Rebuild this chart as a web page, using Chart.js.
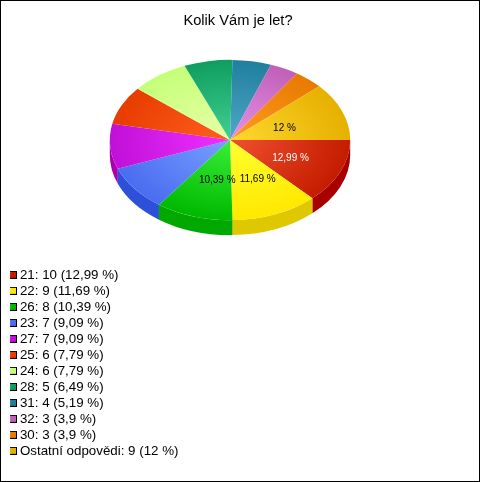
<!DOCTYPE html>
<html><head><meta charset="utf-8">
<style>html,body{margin:0;padding:0;background:#fff}canvas{display:block}</style>
<script src="https://cdn.jsdelivr.net/npm/chart.js@4"></script>
</head><body><canvas id="c" width="480" height="482"></canvas>
<script>
const categories = ['21','22','26','23','27','25','24','28','31','32','30','Ostatní odpovědi'];
const counts = [10,9,8,7,7,6,6,5,4,3,3,9];
const percents = ['12,99','11,69','10,39','9,09','9,09','7,79','7,79','6,49','5,19','3,9','3,9','12'];
const sliceLabels = ['12,99 %','11,69 %','10,39 %','','','','','','','','','12 %'];
const sliceLabelColors = ['#fff','#000','#000','#000','#000','#000','#000','#000','#000','#000','#000','#000'];
const rimColors = ['#c41c00','#ffe800','#00b800','#4a6cf0','#c010d8','#e83c00','#c4ff78','#0f9e60','#1f7f9c','#c060b8','#e87a00','#e6b000'];
const midColors = ['#f05030','#ffff30','#38f038','#78a0ff','#f030ff','#ff6020','#e8ffa8','#40d090','#50a8c8','#e890e8','#ff9c20','#ffd830'];
const sideColors = ['#a80000','#e0c800','#00a800','#2c50d8','#a800b0','#c03000','#a0d060','#0a8048','#186880','#a04898','#c06000','#c09000'];
const legendColors = ['#c41c00','#ffe800','#00b800','#4a6cf0','#c010d8','#e83c00','#c4ff78','#0f9e60','#1f7f9c','#c060b8','#e87a00','#e6b000'];
const squash = 0.6667, depth = 15, pieCenterX = 230, pieCenterY = 140;

function swatch(color){
  const s=document.createElement('canvas'); s.width=8; s.height=8;
  const x=s.getContext('2d');
  x.fillStyle='#000'; x.fillRect(0,0,8,8);
  x.fillStyle=color; x.fillRect(1,1,6,6);
  return s;
}
function toScreen(chart, x, y){
  const a = chart.chartArea, ax=(a.left+a.right)/2, ay=(a.top+a.bottom)/2;
  return {x:x-ax+pieCenterX, y:(y-ay)*squash+pieCenterY};
}
const pie3d = {
  id:'pie3d',
  beforeDatasetsDraw(chart){
    const ctx = chart.ctx, a = chart.chartArea;
    const ax=(a.left+a.right)/2, ay=(a.top+a.bottom)/2;
    const arcs = chart.getDatasetMeta(0).data;
    arcs.forEach((arc,i)=>{
      const s=Math.max(arc.startAngle,0), e=Math.min(arc.endAngle,Math.PI);
      if(e<=s) return;
      const r=arc.outerRadius, ry=r*squash;
      ctx.fillStyle=sideColors[i];
      ctx.beginPath();
      ctx.ellipse(pieCenterX,pieCenterY,r,ry,0,s,e);
      ctx.ellipse(pieCenterX,pieCenterY+depth,r,ry,0,e,s,true);
      ctx.closePath(); ctx.fill();
    });
    ctx.save();
    ctx.translate(pieCenterX,pieCenterY);
    ctx.scale(1,squash);
    ctx.translate(-ax,-ay);
  },
  afterDatasetsDraw(chart){
    const ctx = chart.ctx;
    ctx.restore();
    const arcs = chart.getDatasetMeta(0).data;
    ctx.save();
    ctx.font = '10px "Liberation Sans", Arial, sans-serif';
    ctx.textAlign='left'; ctx.textBaseline='middle';
    arcs.forEach((arc,i)=>{
      if(!sliceLabels[i]) return;
      const m=(arc.startAngle+arc.endAngle)/2, rr=arc.outerRadius*0.5;
      const p=toScreen(chart, arc.x+Math.cos(m)*rr-13, arc.y+Math.sin(m)*rr);
      ctx.fillStyle=sliceLabelColors[i];
      ctx.fillText(sliceLabels[i],p.x,p.y+2.5);
    });
    ctx.restore();
  },
  afterLayout(chart){
    const l=chart.legend;
    const w=l.width,h=l.height;
    l.left=10.08; l.top=265.5; l.right=10.08+w; l.bottom=265.5+h;
    l.adjustHitBoxes();
  },
  beforeDraw(chart){
    const ctx=chart.ctx;
    ctx.save();
    ctx.fillStyle='#fff'; ctx.fillRect(0,0,480,482);
    ctx.strokeStyle='#000'; ctx.lineWidth=1;
    ctx.strokeRect(0.5,0.5,479,481);
    ctx.restore();
  }
};
new Chart(document.getElementById('c'),{
  type:'pie',
  data:{labels:categories,datasets:[{
    data:counts,
    borderWidth:0,
    clip:false,
    backgroundColor(c){
      const a=c.chart.chartArea;
      if(!a) return rimColors[c.dataIndex];
      const x=(a.left+a.right)/2,y=(a.top+a.bottom)/2;
      const g=c.chart.ctx.createRadialGradient(x,y,0,x,y,120);
      g.addColorStop(0,midColors[c.dataIndex]);
      g.addColorStop(1,rimColors[c.dataIndex]);
      return g;
    }
  }]},
  plugins:[pie3d],
  options:{
    responsive:false,animation:false,rotation:90,
    layout:{padding:{left:0,right:4,top:0,bottom:200}},
    plugins:{
      tooltip:{enabled:false},
      title:{display:true,text:'Kolik Vám je let?',color:'#000',
        font:{family:'"Liberation Sans", Arial, sans-serif',size:14.67,weight:'normal',lineHeight:1.2},
        padding:{top:12,bottom:12}},
      legend:{position:'chartArea',align:'start',
        labels:{
          usePointStyle:true,boxWidth:0.5,boxHeight:7,padding:2.67,color:'#000',
          font:{family:'"Liberation Sans", Arial, sans-serif',size:13.33,lineHeight:1.15},
          generateLabels(){
            return categories.map((k,i)=>({
              text:`${k}: ${counts[i]} (${percents[i]} %)`,
              pointStyle:swatch(legendColors[i]),fillStyle:legendColors[i],strokeStyle:'#000',lineWidth:1,index:i,hidden:false
            }));
          }
        }
      }
    }
  }
});
</script></body></html>
